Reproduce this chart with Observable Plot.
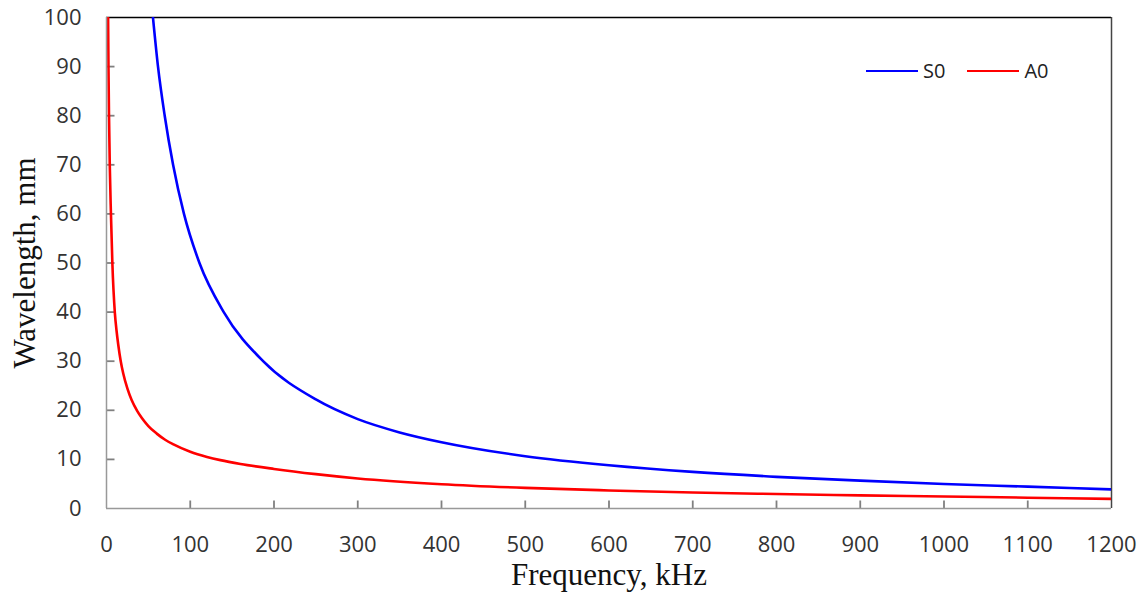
<!DOCTYPE html>
<html>
<head>
<meta charset="utf-8">
<script src="https://cdn.jsdelivr.net/npm/d3@7"></script>
<script src="https://cdn.jsdelivr.net/npm/@observablehq/plot@0.6"></script>
<style>
  html, body { margin: 0; padding: 0; background: #fff; }
  #wrap { position: relative; width: 1145px; height: 594px; }
  .legend { position: absolute; top: 57px; left: 866px; display: flex; align-items: center;
            font-family: "Open Sans", sans-serif; font-size: 20px; color: #222; }
  .legend .sw { display: inline-block; width: 52px; height: 0; border-top: 2.5px solid; margin-right: 5px; }
  .legend .item { display: flex; align-items: center; margin-right: 22px; }
</style>
</head>
<body>
<div id="wrap"></div>
<script>
// S0 mode: frequency (kHz) and wavelength (mm)
const s0Freq = [55.5, 61.5, 69.5, 79.5, 92.5, 111, 140, 187, 250, 300, 350, 400, 500, 600, 700, 800, 900, 1000, 1100, 1200];
const s0Wave = [100, 90, 80, 70, 60, 50, 40, 30, 22.2, 18.2, 15.5, 13.5, 10.65, 8.8, 7.45, 6.45, 5.67, 5.0, 4.45, 3.9];
// A0 mode
const a0Freq = [1.9, 2.35, 3.0, 3.9, 5.3, 7.0, 10, 12, 14, 17, 20, 25, 30, 36.6, 42, 50, 60, 70, 80, 100, 120, 136, 160, 200, 250, 300, 400, 500, 600, 700, 800, 900, 1000, 1100, 1200];
const a0Wave = [100, 90, 80, 70, 60, 50, 39.8, 36.2, 33.4, 30, 27.5, 24.4, 22.1, 19.9, 18.5, 16.8, 15.25, 14.0, 13.05, 11.55, 10.5, 9.85, 9.07, 8.06, 7.0, 6.12, 4.95, 4.2, 3.68, 3.27, 2.95, 2.68, 2.44, 2.2, 1.95];

const seriesNames = ["S0", "A0"];
const seriesColors = ["#0000ff", "#ff0000"];
const xTicks = d3.range(0, 1201, 100);
const yTicks = d3.range(0, 101, 10);
const xTitle = "Frequency, kHz";
const yTitle = "Wavelength, mm";

const data = [
  ...s0Freq.map((f, i) => ({series: "S0", f, w: s0Wave[i]})),
  ...a0Freq.map((f, i) => ({series: "A0", f, w: a0Wave[i]}))
];

const tickFont = {fontFamily: "'Open Sans', sans-serif", fontSize: 22};
const W = 1145, H = 594, mL = 106, mR = 34, mT = 17, mB = 86;
const frameW = W - mL - mR, frameH = H - mT - mB;
const tickLen = 8;
const xMax = 1200, yMax = 100;
// tick length expressed in data units of each axis
const xTickLenData = tickLen * xMax / frameW;
const yTickLenData = tickLen * yMax / frameH;

const xTickRows = xTicks.filter(d => d > 0 && d < xMax).map(v => ({v, a: 0, b: yTickLenData}));
const yTickRows = yTicks.filter(d => d > 0 && d < yMax).map(v => ({v, a: 0, b: xTickLenData}));

const chart = Plot.plot({
  width: W,
  height: H,
  marginLeft: mL,
  marginRight: mR,
  marginTop: mT,
  marginBottom: mB,
  style: {background: "#fff", overflow: "visible"},
  x: {domain: [0, xMax]},
  y: {domain: [0, yMax]},
  color: {domain: seriesNames, range: seriesColors},
  marks: [
    Plot.ruleY([yMax], {stroke: "#000", strokeWidth: 1.5}),
    Plot.ruleX([xMax], {stroke: "#444", strokeWidth: 1.5}),
    // inward tick marks
    Plot.link(xTickRows, {x1: "v", x2: "v", y1: "a", y2: "b", stroke: "#808080", strokeWidth: 1.8}),
    Plot.link(yTickRows, {y1: "v", y2: "v", x1: "a", x2: "b", stroke: "#808080", strokeWidth: 1.8}),
    Plot.line(data, {x: "f", y: "w", z: "series", stroke: "series", strokeWidth: 2.6, curve: "monotone-x", clip: true}),
    Plot.ruleX([0], {stroke: "#999", strokeWidth: 1.5}),
    Plot.ruleY([0], {stroke: "#999", strokeWidth: 1.5}),
    Plot.axisX({ticks: xTicks, tickSize: 0, tickPadding: 28, tickFormat: d => String(d),
                fill: "#333", ...tickFont, label: null}),
    Plot.axisY({ticks: yTicks, tickSize: 0, tickPadding: 25, tickFormat: d => String(d),
                fill: "#333", ...tickFont, label: null}),
    Plot.text([xTitle], {frameAnchor: "bottom", textAnchor: "middle", dy: 76, fontFamily: "'Liberation Serif', 'Times New Roman', serif",
                fontSize: 31, fill: "#111", text: d => d}),
    Plot.text([yTitle], {frameAnchor: "left", textAnchor: "middle", dx: -81, rotate: -90, fontFamily: "'Liberation Serif', 'Times New Roman', serif",
                fontSize: 31, fill: "#111", text: d => d})
  ]
});

const wrap = document.getElementById("wrap");
wrap.appendChild(chart);

const legend = document.createElement("div");
legend.className = "legend";
seriesNames.forEach((name, i) => {
  const item = document.createElement("div");
  item.className = "item";
  const sw = document.createElement("span");
  sw.className = "sw";
  sw.style.borderTopColor = seriesColors[i];
  const label = document.createElement("span");
  label.textContent = name;
  item.appendChild(sw);
  item.appendChild(label);
  legend.appendChild(item);
});
wrap.appendChild(legend);
</script>
</body>
</html>
